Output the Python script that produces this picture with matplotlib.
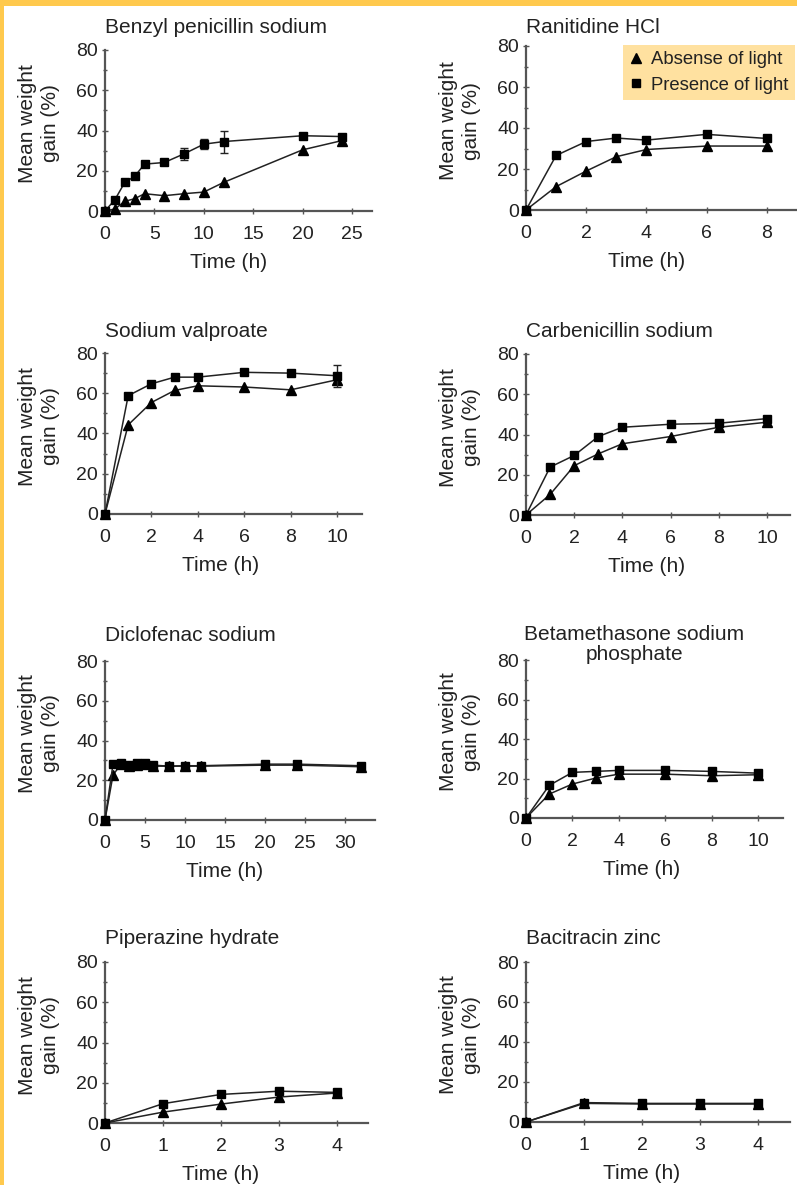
import matplotlib
matplotlib.use("Agg")
import matplotlib.pyplot as plt
from matplotlib.patches import Rectangle
from matplotlib.lines import Line2D
import numpy as np

plt.rcParams['font.family'] = ['Liberation Sans', 'DejaVu Sans']

W, H = 797, 1185

# ---------------- data ----------------
titles = ["Benzyl penicillin sodium", "Ranitidine HCl",
          "Sodium valproate", "Carbenicillin sodium",
          "Diclofenac sodium", "Betamethasone sodium\nphosphate",
          "Piperazine hydrate", "Bacitracin zinc"]

benzyl_t = [0, 1, 2, 3, 4, 6, 8, 10, 12, 20, 24]
benzyl_light = [0, 5.6, 14.2, 17.2, 23.3, 24.1, 28.4, 33.2, 34.5, 37.4, 37.0]
benzyl_light_err = [0, 0, 0, 0, 0, 0, 3.0, 2.5, 5.5, 0, 0]
benzyl_dark = [0, 1.0, 4.8, 6.1, 8.6, 7.6, 8.6, 9.4, 14.2, 30.4, 35.0]

ranit_t = [0, 1, 2, 3, 4, 6, 8]
ranit_light = [0, 26.6, 33.4, 35.1, 34.1, 36.9, 34.9]
ranit_dark = [0, 11.4, 19.0, 26.0, 29.5, 31.2, 31.2]

valpro_t = [0, 1, 2, 3, 4, 6, 8, 10]
valpro_light = [0, 58.8, 64.7, 68.0, 68.0, 70.4, 70.0, 68.7]
valpro_light_err = [0, 0, 0, 0, 0, 0, 0, 5.5]
valpro_dark = [0, 44.3, 55.4, 61.4, 63.7, 63.1, 61.7, 66.7]

carben_t = [0, 1, 2, 3, 4, 6, 8, 10]
carben_light = [0, 23.8, 29.6, 39.0, 43.6, 45.1, 45.6, 47.9]
carben_dark = [0, 10.2, 24.5, 30.4, 35.4, 39.0, 43.6, 46.1]

diclo_t = [0, 1, 2, 3, 4, 5, 6, 8, 10, 12, 20, 24, 32]
diclo_light = [0, 28.1, 28.8, 27.6, 28.5, 28.5, 27.6, 27.1, 27.3, 27.3, 28.1, 28.1, 27.3]
diclo_dark = [0, 22.6, 28.1, 27.1, 27.6, 28.1, 27.1, 27.1, 27.1, 27.1, 27.6, 27.6, 26.8]

betam_t = [0, 1, 2, 3, 4, 6, 8, 10]
betam_light = [0, 16.5, 23.1, 23.6, 24.1, 24.1, 23.6, 22.7]
betam_dark = [0, 12.1, 17.2, 20.2, 22.2, 22.2, 21.4, 21.9]

piper_t = [0, 1, 2, 3, 4]
piper_light = [0, 9.6, 14.2, 15.8, 15.2]
piper_dark = [0, 5.4, 9.4, 12.9, 14.9]

bacit_t = [0, 1, 2, 3, 4]
bacit_light = [0, 9.7, 9.3, 9.3, 9.3]
bacit_dark = [0, 9.3, 9.0, 9.0, 9.0]

xticks_list = [[0, 5, 10, 15, 20, 25], [0, 2, 4, 6, 8],
               [0, 2, 4, 6, 8, 10], [0, 2, 4, 6, 8, 10],
               [0, 5, 10, 15, 20, 25, 30], [0, 2, 4, 6, 8, 10],
               [0, 1, 2, 3, 4], [0, 1, 2, 3, 4]]
yticks = [0, 20, 40, 60, 80]
legend_labels = ["Absense of light", "Presence of light"]

series = [
    (benzyl_t, benzyl_light, benzyl_light_err, benzyl_dark),
    (ranit_t, ranit_light, None, ranit_dark),
    (valpro_t, valpro_light, valpro_light_err, valpro_dark),
    (carben_t, carben_light, None, carben_dark),
    (diclo_t, diclo_light, None, diclo_dark),
    (betam_t, betam_light, None, betam_dark),
    (piper_t, piper_light, None, piper_dark),
    (bacit_t, bacit_light, None, bacit_dark),
]

# ---------------- layout (pixels) ----------------
# left px, y0 px (value 0), y80 px, right px, px per x unit
layout = [
    (105, 211, 50, 372, 9.88),
    (526, 210, 46, 797, 30.1),
    (105, 514, 353, 362, 23.2),
    (526, 515, 354, 790, 24.1),
    (105, 820, 661, 375, 8.0),
    (526, 818, 660, 783, 23.2),
    (105, 1123, 962, 368, 58.0),
    (526, 1122, 962, 790, 58.0),
]
title_baselines = [33, 33, 337, 337, 641, 641, 944, 944]

ink = '#222222'
axcol = '#555555'
fs_tick = 14
fs_lab = 15

fig = plt.figure(figsize=(W / 100, H / 100), dpi=100)
fig.patch.set_facecolor('white')

# yellow frame strips
fig.patches.append(Rectangle((0, 1 - 6 / H), 1, 6 / H, transform=fig.transFigure,
                             facecolor='#FFC94D', edgecolor='none', zorder=0))
fig.patches.append(Rectangle((0, 0), 4 / W, 1, transform=fig.transFigure,
                             facecolor='#FFC94D', edgecolor='none', zorder=0))

for i, ((left, y0, y80, right, ppu), (t, light, lerr, dark)) in enumerate(zip(layout, series)):
    width = right - left
    ax = fig.add_axes([left / W, 1 - y0 / H, width / W, (y0 - y80) / H])
    ax.set_xlim(0, width / ppu)
    ax.set_ylim(0, 80)
    for s in ['top', 'right']:
        ax.spines[s].set_visible(False)
    for s in ['left', 'bottom']:
        ax.spines[s].set_color(axcol)
        ax.spines[s].set_linewidth(1.6)
    ax.set_xticks(xticks_list[i])
    ax.set_yticks(yticks)
    ax.set_yticks([10, 30, 50, 70], minor=True)
    ax.tick_params(axis='both', which='major', direction='inout', length=4, width=1,
                   color=axcol, labelsize=fs_tick, labelcolor=ink)
    ax.tick_params(axis='y', which='major', pad=3)
    ax.tick_params(axis='x', which='major', pad=9)
    ax.tick_params(axis='y', which='minor', direction='inout', length=3, width=1, color=axcol)

    ax.plot(t, dark, color=ink, lw=1.1, marker='^', ms=6.5, mfc='black', mec='black',
            clip_on=False, zorder=3)
    if lerr is not None:
        ax.errorbar(t, light, yerr=lerr, color=ink, lw=1.1, marker='s', ms=6, mfc='black',
                    mec='black', capsize=3, elinewidth=1, clip_on=False, zorder=4)
    else:
        ax.plot(t, light, color=ink, lw=1.1, marker='s', ms=6, mfc='black', mec='black',
                clip_on=False, zorder=4)

    # title (left aligned on the axis)
    if '\n' in titles[i]:
        fig.text(left / W - 2 / W, 1 - (title_baselines[i] - 16) / H, titles[i],
                 ha='left', va='top', multialignment='center', fontsize=fs_lab,
                 color=ink, linespacing=1.05)
    else:
        fig.text(left / W, 1 - title_baselines[i] / H, titles[i], ha='left',
                 va='baseline', fontsize=fs_lab, color=ink)

    # y label
    fig.text((left - 66) / W, 1 - ((y0 + y80) / 2 - 7) / H, "Mean weight\ngain (%)",
             rotation=90, ha='center', va='center', multialignment='center',
             fontsize=fs_lab, color=ink, linespacing=1.25)
    # x label centred on tick range
    xt = xticks_list[i]
    xc = left + (xt[0] + xt[-1]) / 2 * ppu
    fig.text(xc / W, 1 - (y0 + 57) / H, "Time (h)", ha='center', va='baseline',
             fontsize=fs_lab, color=ink)

# legend
handles = [Line2D([], [], marker='^', color='black', linestyle='none', ms=7),
           Line2D([], [], marker='s', color='black', linestyle='none', ms=6)]
leg = fig.legend(handles, legend_labels, loc='upper right',
                 bbox_to_anchor=(795 / W, 1 - 45 / H), frameon=True, fancybox=False,
                 facecolor='#FFE1A0', edgecolor='none', framealpha=1, fontsize=13.3,
                 handlelength=0.7, handletextpad=0.45, borderpad=0.35,
                 labelspacing=0.45, borderaxespad=0)
for txt in leg.get_texts():
    txt.set_color(ink)

fig.savefig("out.png", dpi=100)
